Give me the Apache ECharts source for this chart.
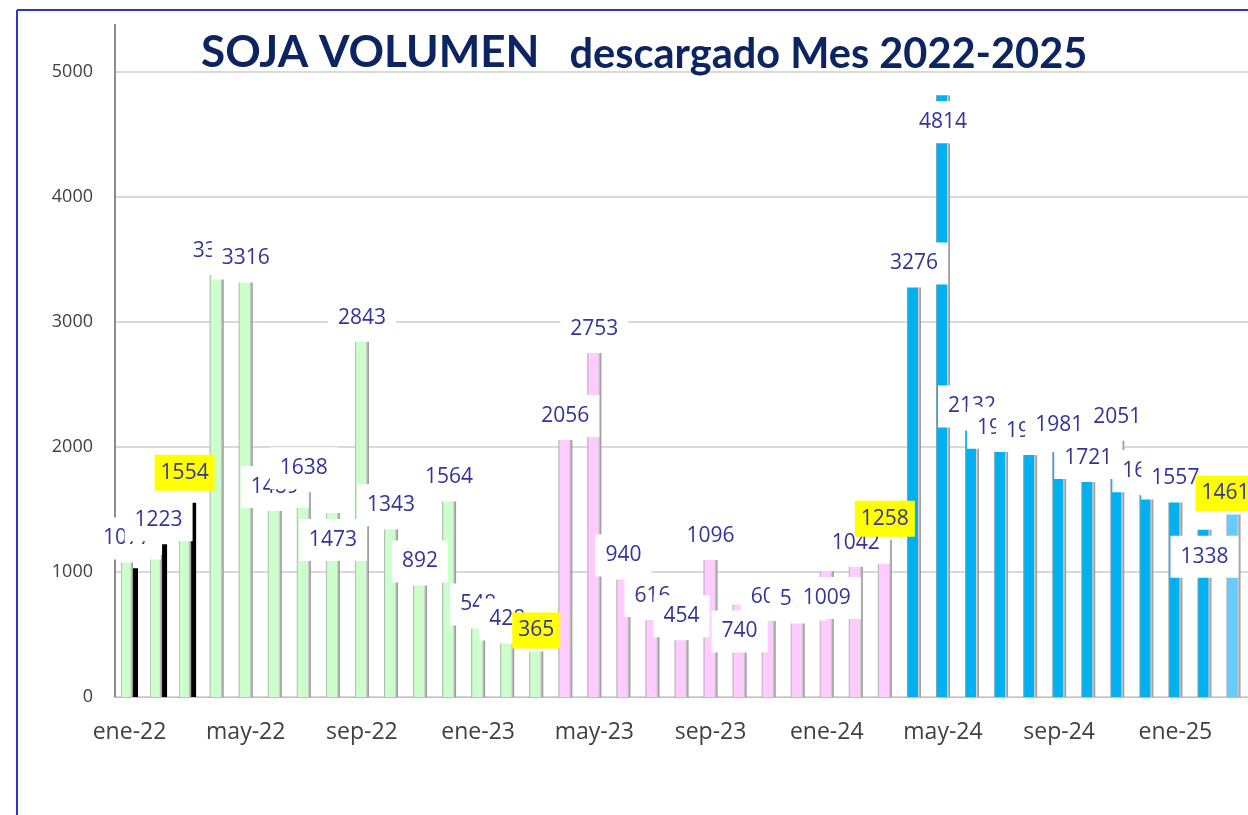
<!DOCTYPE html>
<html>
<head>
<meta charset="utf-8">
<script src="https://cdn.jsdelivr.net/npm/echarts@6/dist/echarts.min.js"></script>
<style>
  html, body { margin: 0; padding: 0; background: #fff; }
  #chart { width: 1248px; height: 815px; }
</style>
</head>
<body>
<div id="chart"></div>
<script>
// meses (ene-22 .. mar-25)
const months = [
  'ene-22', 'feb-22', 'mar-22', 'abr-22', 'may-22', 'jun-22', 'jul-22', 'ago-22', 'sep-22', 'oct-22', 'nov-22', 'dic-22',
  'ene-23', 'feb-23', 'mar-23', 'abr-23', 'may-23', 'jun-23', 'jul-23', 'ago-23', 'sep-23', 'oct-23', 'nov-23', 'dic-23',
  'ene-24', 'feb-24', 'mar-24', 'abr-24', 'may-24', 'jun-24', 'jul-24', 'ago-24', 'sep-24', 'oct-24', 'nov-24', 'dic-24',
  'ene-25', 'feb-25', 'mar-25'
];

// volumen descargado por mes
const volumen = [
  1077, 1136, 1280, 3376, 3316, 1489, 1638, 1473, 2843, 1343, 892, 1564,
  548, 428, 365, 2056, 2753, 940, 616, 454, 1096, 740, 608, 588,
  1009, 1042, 1258, 3276, 4814, 2132, 1963, 1936, 1981, 1721, 2051, 1614,
  1557, 1338, 1461
];

// barras negras de los primeros meses
const negras = [1030, 1223, 1554];

const yTicks = [0, 1000, 2000, 3000, 4000, 5000];

// estilo
const yellowIdx = [14, 26, 38];
const belowIdx = [7, 21, 24, 28, 37];
const hideLabelIdx = [1, 2];
const labelColor = '#333399';
const yellowPad = [6, 6, 6, 6];

function barColor(i) {
  if (i <= 14) return '#ccffcc';
  if (i <= 26) return '#ffccff';
  if (i <= 37) return '#00b0f0';
  return '#66ccff';
}

function shade(c) {
  return {
    type: 'linear', x: 0, y: 0, x2: 1, y2: 0,
    colorStops: [
      { offset: 0, color: '#a6a6a6' },
      { offset: 0.12, color: c },
      { offset: 0.76, color: c },
      { offset: 0.82, color: '#d0d0d0' },
      { offset: 1, color: '#8c8c8c' }
    ]
  };
}

const baseLabel = {
  show: true,
  position: 'top',
  distance: 3,
  color: labelColor,
  fontFamily: 'Open Sans',
  fontSize: 21,
  lineHeight: 24,
  backgroundColor: '#ffffff',
  padding: [9, 10, 9, 10]
};

function labelFor(i) {
  const l = Object.assign({}, baseLabel);
  if (yellowIdx.indexOf(i) >= 0) {
    l.backgroundColor = '#ffff00';
    l.padding = yellowPad;
  }
  if (belowIdx.indexOf(i) >= 0) { l.position = 'insideTop'; l.distance = 6; }
  if (hideLabelIdx.indexOf(i) >= 0) l.show = false;
  if (i === months.length - 1) l.offset = [-8, 0];
  return l;
}

const mainData = volumen.map((v, i) => i < 3 ? '-' : {
  value: v, itemStyle: { color: shade(barColor(i)) }, label: labelFor(i)
});
const earlyData = volumen.map((v, i) => i >= 3 ? '-' : {
  value: v, itemStyle: { color: shade(barColor(i)) }, label: labelFor(i)
});
const blackData = months.map((m, i) => i >= negras.length ? '-' : {
  value: negras[i],
  itemStyle: { color: '#000000' },
  label: Object.assign({}, baseLabel, i === 2
    ? { backgroundColor: '#ffff00', padding: yellowPad, distance: 12, offset: [-9, 0] }
    : { show: i > 0, offset: [-6, 0] })
});

const chart = echarts.init(document.getElementById('chart'));
chart.setOption({
  backgroundColor: '#ffffff',
  animation: false,
  title: {
    left: 196,
    top: 22,
    text: '{a|SOJA VOLUMEN}{b|descargado Mes 2022-2025}',
    textStyle: {
      rich: {
        a: { fontFamily: 'Lato', fontWeight: 'bold', fontSize: 44, color: '#0c2461', lineHeight: 52 },
        b: { fontFamily: 'Lato', fontWeight: 'bold', fontSize: 41.5, color: '#0c2461', lineHeight: 52, padding: [3, 0, 0, 30] }
      }
    }
  },
  grid: { left: 115, right: -8, top: 72, bottom: 118 },
  xAxis: [{
    type: 'category',
    data: months,
    axisLine: { lineStyle: { color: '#bfbfbf', width: 1 } },
    axisTick: { show: false },
    axisLabel: { interval: 3, margin: 24, color: '#404040', fontFamily: 'Open Sans', fontSize: 23 }
  }, {
    type: 'category',
    data: months,
    show: false
  }],
  yAxis: {
    type: 'value',
    min: yTicks[0],
    max: yTicks[yTicks.length - 1],
    interval: 1000,
    axisLine: { show: true, lineStyle: { color: '#8c8c8c', width: 2 } },
    axisTick: { show: false },
    axisLabel: {
      margin: 22, color: '#404040', fontFamily: 'Open Sans', fontSize: 18,
      formatter: (v) => String(v)
    },
    splitLine: { lineStyle: { color: '#d9d9d9', width: 2 } }
  },
  series: [
    { type: 'bar', name: 'volumen', xAxisIndex: 0, data: mainData, barWidth: 14 },
    { type: 'bar', name: 'inicio', xAxisIndex: 1, data: earlyData, barWidth: 12, barGap: '0%' },
    { type: 'bar', name: 'negras', xAxisIndex: 1, data: blackData, barWidth: 5, barGap: '0%' }
  ],
  graphic: [
    { type: 'line', shape: { x1: 17, y1: 10, x2: 1248, y2: 10 }, style: { stroke: '#3333cc', lineWidth: 2 } },
    { type: 'line', shape: { x1: 17, y1: 10, x2: 17, y2: 815 }, style: { stroke: '#3333cc', lineWidth: 2 } },
    { type: 'line', shape: { x1: 115, y1: 24, x2: 115, y2: 72 }, style: { stroke: '#8c8c8c', lineWidth: 2 } }
  ]
});
</script>
</body>
</html>
